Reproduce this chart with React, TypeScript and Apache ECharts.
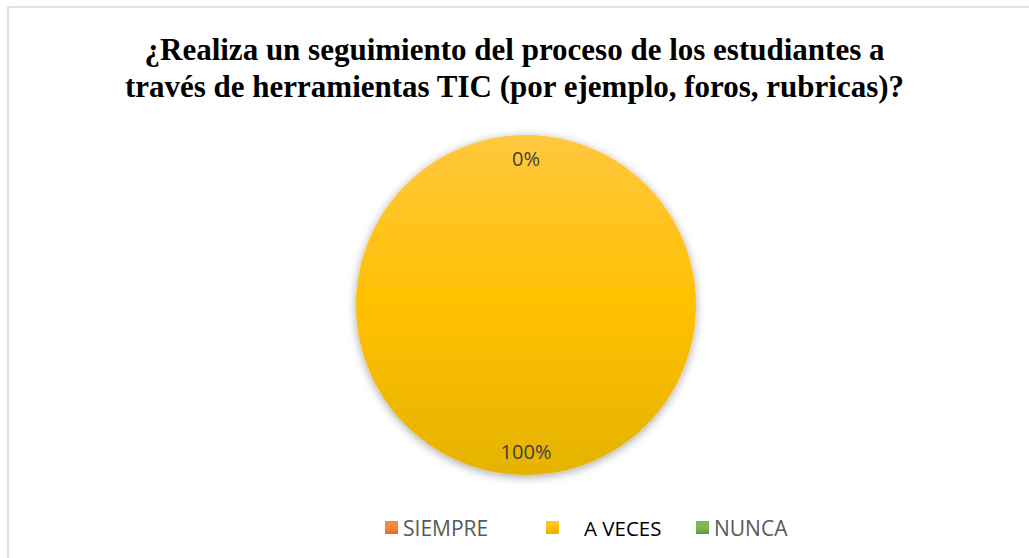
import React, { useEffect, useRef } from "react";
import * as echarts from "echarts";

const titleLines = [
  "¿Realiza un seguimiento del proceso de los estudiantes a",
  "través de herramientas TIC (por ejemplo, foros, rubricas)?",
];
const categories = ["SIEMPRE", "A VECES", "NUNCA"];
const values = [0, 100, 0];
const colorStops = [
  ["#F58A3C", "#E36C1A"],
  ["#FFC83F", "#E5B300"],
  ["#7DB854", "#5E9A34"],
];

export default function App() {
  const ref = useRef<HTMLDivElement>(null);
  useEffect(() => {
    if (!ref.current) return;
    const chart = echarts.init(ref.current, null, { renderer: "svg" });
    const grad = (i: number) =>
      new echarts.graphic.LinearGradient(0, 0, 0, 1, [
        { offset: 0, color: colorStops[i][0] },
        { offset: 0.5, color: i === 1 ? "#FFC000" : colorStops[i][0] },
        { offset: 1, color: colorStops[i][1] },
      ]);
    const legendLefts = [385, 546, 696];
    const option: any = {
      animation: false,
      backgroundColor: "#ffffff",
      title: {
        text: titleLines.join("\n"),
        left: "center",
        top: 26,
        textStyle: {
          fontFamily: "Liberation Serif",
          fontWeight: "bold",
          fontSize: 31,
          lineHeight: 37,
          color: "#000000",
        },
      },
      graphic: [
        {
          type: "rect",
          shape: { x: 8, y: 7, width: 1040, height: 570 },
          style: { fill: "none", stroke: "#d9d9d9", lineWidth: 1.5 },
          silent: true,
        },
      ],
      legend: categories.map((c, i) => ({
        data: [{ name: c, itemStyle: { color: grad(i) } }],
        left: legendLefts[i] - 5,
        top: 517,
        padding: [0, 5, 0, 5],
        icon: "rect",
        itemWidth: 13,
        itemHeight: 13,
        selectedMode: false,
        textStyle: {
          fontFamily: "Open Sans",
          fontSize: i === 1 ? 20.5 : 21,
          color: i === 1 ? "#000000" : "#595959",
          padding: i === 1 ? [-5, 0, 0, 20] : 0,
        },
      })),
      series: [
        {
          type: "pie",
          center: [526, 305],
          radius: [0, 170],
          startAngle: 90,
          clockwise: true,
          silent: true,
          label: { show: false },
          labelLine: { show: false },
          itemStyle: {
            shadowBlur: 10,
            shadowColor: "rgba(0,0,0,0.35)",
            shadowOffsetY: 2,
          },
          data: categories.map((c, i) => ({
            name: c,
            value: values[i],
            itemStyle: { color: grad(i) },
          })),
        },
        {
          type: "pie",
          center: [526, 305],
          radius: [117, 170],
          startAngle: 90,
          clockwise: true,
          silent: true,
          percentPrecision: 0,
          labelLine: { show: false },
          itemStyle: { color: "rgba(0,0,0,0)" },
          label: {
            show: true,
            position: "inside",
            formatter: "{d}%",
            fontFamily: "Open Sans",
            fontSize: 20,
            color: "#404040",
          },
          data: categories.map((c, i) => ({
            name: c,
            value: values[i],
            label: { show: i !== 2 },
          })),
        },
      ],
    };
    chart.setOption(option);
    return () => chart.dispose();
  }, []);
  return (
    <div
      ref={ref}
      style={{ position: "fixed", left: 0, top: 0, width: 1029, height: 558 }}
    />
  );
}
